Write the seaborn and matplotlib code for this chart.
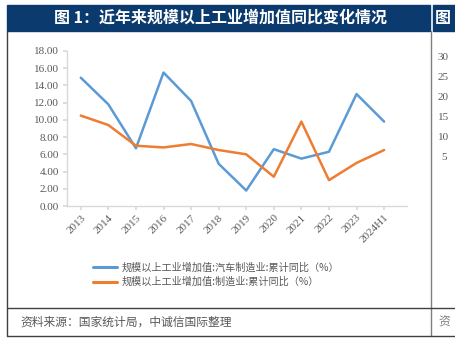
import matplotlib
matplotlib.use("Agg")
import matplotlib.pyplot as plt
import seaborn as sns
import pandas as pd
from matplotlib.patches import Rectangle
from matplotlib.lines import Line2D

categories = ["2013", "2014", "2015", "2016", "2017", "2018", "2019", "2020",
              "2021", "2022", "2023", "2024H1"]
auto_values = [14.9, 11.8, 6.7, 15.5, 12.2, 4.9, 1.8, 6.6, 5.5, 6.3, 13.0, 9.8]
mfg_values = [10.5, 9.4, 7.0, 6.8, 7.2, 6.5, 6.0, 3.4, 9.8, 3.0, 5.0, 6.5]
series_names = ["规模以上工业增加值:汽车制造业:累计同比（%）",
                "规模以上工业增加值:制造业:累计同比（%）"]
yticks = [0, 2, 4, 6, 8, 10, 12, 14, 16, 18]
title_text = "图 1：近年来规模以上工业增加值同比变化情况"
source_text = "资料来源：国家统计局，中诚信国际整理"
right_ticks = ["30", "25", "20", "15", "10", "5"]

sns.set_theme(style="white")
plt.rcParams['font.family'] = ['Liberation Serif', 'Noto Sans CJK SC', 'DejaVu Sans']

W, H = 455, 350
fig = plt.figure(figsize=(W / 100, H / 100), dpi=100)

def fx(px):
    return px / W

def fy(py):
    return (H - py) / H

df = pd.DataFrame({
    "cat": list(range(len(categories))) * 2,
    "value": auto_values + mfg_values,
    "series": [series_names[0]] * len(categories) + [series_names[1]] * len(categories),
})

ax = fig.add_axes([fx(67), fy(206), fx(407) - fx(67), fy(51) - fy(206)])
palette = {series_names[0]: "#5B9BD5", series_names[1]: "#ED7D31"}
sns.lineplot(data=df, x="cat", y="value", hue="series", palette=palette,
             linewidth=1.8, ax=ax, legend=False, sort=False)

ax.set_xlim(-0.5, 11.83)
ax.set_ylim(0, 18)
ax.set_yticks(yticks)
ax.set_yticklabels([f"{v:.2f}" for v in yticks], fontsize=8, color="#595959",
                   family="Liberation Serif")
ax.set_xticks(range(len(categories)))
ax.set_xticklabels(categories, rotation=45, ha="right", rotation_mode="anchor",
                   fontsize=8, color="#595959", family="Liberation Serif")
ax.set_xlabel("")
ax.set_ylabel("")
for s in ["top", "right"]:
    ax.spines[s].set_visible(False)
for s in ["left", "bottom"]:
    ax.spines[s].set_color("#D9D9D9")
    ax.spines[s].set_linewidth(1.0)
ax.tick_params(axis="y", which="both", left=True, length=3, color="#D9D9D9", pad=3)
ax.tick_params(axis="x", which="both", bottom=True, length=3, color="#D9D9D9", pad=2)
ax.patch.set_alpha(0)

handles = [Line2D([0], [0], color="#5B9BD5", lw=2.2),
           Line2D([0], [0], color="#ED7D31", lw=2.2)]
leg = fig.legend(handles, series_names, loc="upper left",
                 bbox_to_anchor=(fx(93), fy(262)), frameon=False,
                 prop={"family": "Noto Sans CJK SC", "size": 7.3},
                 handlelength=2.4, handletextpad=0.4, labelspacing=0.45,
                 borderpad=0, borderaxespad=0)
for t in leg.get_texts():
    t.set_color("#595959")

# title bars
fig.patches.append(Rectangle((fx(7), fy(31)), fx(430) - fx(7), fy(5) - fy(31),
                             transform=fig.transFigure, color="#0B3A6E", zorder=0))
fig.patches.append(Rectangle((fx(433), fy(31)), fx(456) - fx(433), fy(5) - fy(31),
                             transform=fig.transFigure, color="#0B3A6E", zorder=0))
fig.text(fx(220), fy(18), title_text, color="white", fontsize=11.5, fontweight="bold",
         ha="center", va="center", family=["Noto Sans CJK SC"])
fig.text(fx(435), fy(18), "图", color="white", fontsize=11.5, fontweight="bold",
         ha="left", va="center", family=["Noto Sans CJK SC"])

# frame lines
fig.lines.append(Line2D([fx(7), fx(7)], [fy(31), fy(336)], transform=fig.transFigure,
                        color="#404040", lw=1.0))
fig.lines.append(Line2D([fx(431), fx(431)], [fy(31), fy(336)], transform=fig.transFigure,
                        color="#7F7F7F", lw=1.0))
fig.lines.append(Line2D([fx(7), fx(455)], [fy(308), fy(308)], transform=fig.transFigure,
                        color="#404040", lw=1.0))
fig.lines.append(Line2D([fx(7), fx(455)], [fy(336), fy(336)], transform=fig.transFigure,
                        color="#404040", lw=1.0))

fig.text(fx(20), fy(322), source_text, color="#595959", fontsize=8.5, style="italic",
         ha="left", va="center", family=["Noto Sans CJK SC"])
fig.text(fx(438), fy(322), "资", color="#7F7F7F", fontsize=8.5, style="italic",
         ha="left", va="center", family=["Noto Sans CJK SC"])

for i, lab in enumerate(right_ticks):
    fig.text(fx(438 + (3 if lab == "5" else 0)), fy(58 + i * 19.8), lab, color="#595959",
             fontsize=8, ha="left", va="center", family="Liberation Serif")

fig.savefig("out.png", dpi=100)
